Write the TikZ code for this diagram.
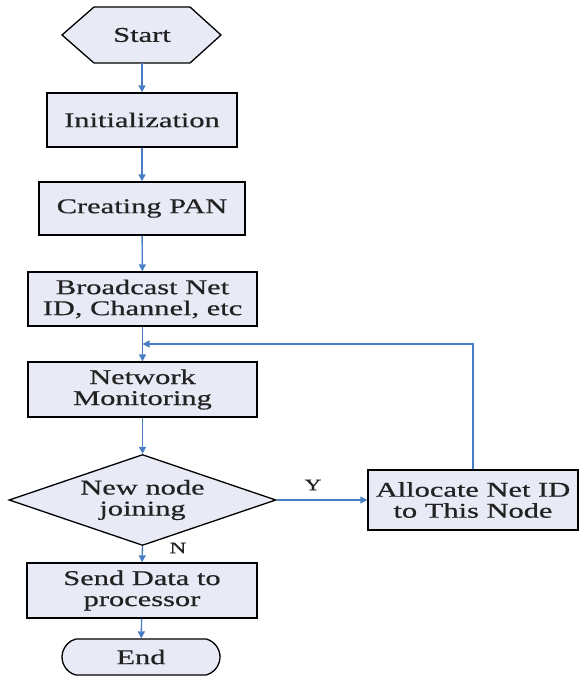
\documentclass[tikz,border=0pt]{standalone}
\usepackage{fontspec}
\setmainfont[FakeStretch=1.45,FakeBold=0.6]{Liberation Serif}
\usetikzlibrary{shapes.geometric,shapes.misc,arrows.meta,calc}
\definecolor{boxfill}{HTML}{E8EAF6}
\definecolor{flowblue}{HTML}{4A7EC4}
\definecolor{inkgray}{HTML}{222222}
\begin{document}
\begin{tikzpicture}[x=1pt,y=1pt,
  font=\fontsize{21}{21}\selectfont,
  procbox/.style={rectangle,draw=black,line width=1.3pt,fill=boxfill,
    align=center,inner sep=0pt,text=inkgray},
  decision/.style={diamond,draw=black,line width=1.3pt,fill=boxfill,
    align=center,inner sep=0pt,aspect=2.93,text=inkgray},
  terminal/.style={rounded rectangle,rounded rectangle arc length=150,
    draw=black,line width=1.3pt,fill=boxfill,inner sep=0pt,text=inkgray},
  flow/.style={draw=flowblue,line width=1.4pt,
    -{Triangle[length=7pt,width=7pt]}},
  branch/.style={font=\fontsize{16}{16}\selectfont,text=inkgray}
]
\useasboundingbox (0,0) rectangle (580,677);

% start terminator (hexagon outline, text node on top)
\filldraw[draw=black,line width=1.3pt,fill=boxfill]
  (62,642) -- (94,670) -- (190,670) -- (221,642) -- (190,614) -- (94,614) -- cycle;
\node[text=inkgray,minimum width=159,minimum height=56,inner sep=0pt] (start) at (142,642) {Start};

% process steps
\node[procbox,minimum width=190,minimum height=54] (init) at (142,557) {Initialization};
\node[procbox,minimum width=206,minimum height=53] (pan) at (142,468.5) {Creating PAN};
\node[procbox,minimum width=229,minimum height=54] (bcast) at (142.5,378) {Broadcast Net\\ID, Channel, etc};
\node[procbox,minimum width=229,minimum height=55] (net) at (142.5,287.5) {Network\\Monitoring};
\node[decision,minimum width=267,minimum height=91] (dec) at (142.5,177) {New node\\joining};
\node[procbox,minimum width=210,minimum height=60] (alloc) at (473,177) {Allocate Net ID\\to This Node};
\node[procbox,minimum width=230,minimum height=55] (send) at (142,86.5) {Send Data to\\processor};
\node[terminal,minimum width=158,minimum height=36] (end) at (141,20) {End};

% junction where the loop rejoins the main line
\coordinate (merge) at (142.5,333);

% connectors
\draw[flow] (start.south) -- (init.north);
\draw[flow] (init) -- (pan);
\draw[flow] (pan) -- (bcast);
\draw[flow] (bcast) -- (net);
\draw[flow] (alloc.north) |- (merge);
\draw[flow] (net) -- (dec);
\draw[flow] (dec.east) -- (alloc.west);
\draw[flow] (dec.south) -- (send.north);
\draw[flow] (send) -- (end);

% branch labels
\node[branch] (ylab) at (313,192) {Y};
\node[branch] (nlab) at (178,129) {N};
\end{tikzpicture}
\end{document}
